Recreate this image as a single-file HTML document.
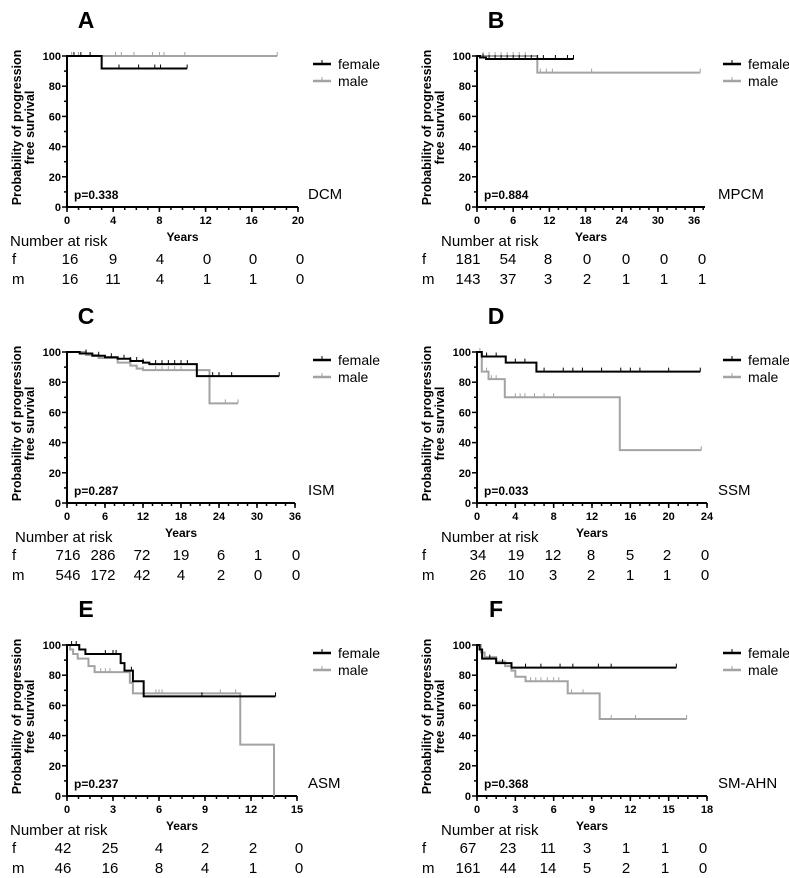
<!DOCTYPE html>
<html><head><meta charset="utf-8">
<style>
html,body{margin:0;padding:0;background:#fff;}
svg{display:block;font-family:"Liberation Sans",Arial,sans-serif;}
</style></head>
<body>
<svg id="fig" width="789" height="878" viewBox="0 0 789 878" xmlns="http://www.w3.org/2000/svg"></svg>
<script>
// ---- Data ----
const aFT=[0,3,10.4], aFS=[100,91.7,91.7];
const aMT=[0,18.2], aMS=[100,100];
const aFC=[0.6,1.2,2.0,4.5,6.2,7.6,8.1,10.4], aMC=[0.4,1.0,4.2,4.7,5.8,7.4,8.0,8.4,10.2,18.2];
const bFT=[0,0.5,1.5,16], bFS=[100,99,98,98];
const bMT=[0,10,37], bMS=[100,89,89];
const bFC=[1,2,3,4,5,6,7,8,9,10,11,13,15,16], bMC=[1,2,3,4,5,6,7,8,10.5,11.5,12.5,19,37];
const cFT=[0,2,4,6,8,10,12,13,20.5,33.5], cFS=[100,99,97.5,96.5,95.5,94,93,92,84,84];
const cMT=[0,3,5,8,10,11,12,22.5,27], cMS=[100,98,96,93,91,89,88,66,66];
const cFC=[3,5,7,9,10,11,12,14,15,16,17,18,19,23,24,26,33.5], cMC=[10,12,14,15,16,17,18,25,27];
const dFT=[0,0.5,3,6.2,23.3], dFS=[100,97,93,87,87];
const dMT=[0,0.5,1.2,2.9,14.9,23.4], dMS=[100,87,82,70,35,35];
const dFC=[1,2,4,5,7,9,10,11,13,15,16,17,20,23.3], dMC=[0.3,1,1.5,2,4,4.5,5,6,7,8,23.4];
const eFT=[0,0.8,1.2,3.5,3.75,4.3,5.0,13.6], eFS=[100,97,94,88,83,76,66,66];
const eMT=[0,0.2,0.4,0.7,1.4,1.8,4.1,4.3,11.3,13.5], eMS=[100,97,94,91,86,82,75,68,34,0];
const eFC=[0.3,0.6,2.5,3.0,3.2,4.2,8.8,13.6], eMC=[2.2,2.5,2.8,5.8,6.0,6.2,10.0,11.0];
const fFT=[0,0.2,0.4,1.5,2.7,15.6], fFS=[100,97,91,88,85,85];
const fMT=[0,0.3,0.6,1.5,2.2,2.7,3.0,3.8,7.1,9.6,16.4], fMS=[100,95,92,89,86,83,79,76,68,51,51];
const fFC=[1,2,3.8,5,6.5,7.5,9.5,10.5,15.6], fMC=[4.2,4.6,5,5.5,6,6.4,7.4,8.3,10.5,12.4,16.4];
const aTicks=[0,4,8,12,16,20], bTicks=[0,6,12,18,24,30,36], cTicks=[0,6,12,18,24,30,36];
const dTicks=[0,4,8,12,16,20,24], eTicks=[0,3,6,9,12,15], fTicks=[0,3,6,9,12,15,18];
const aRiskF=[16,9,4,0,0,0], aRiskM=[16,11,4,1,1,0];
const bRiskF=[181,54,8,0,0,0,0], bRiskM=[143,37,3,2,1,1,1];
const cRiskF=[716,286,72,19,6,1,0], cRiskM=[546,172,42,4,2,0,0];
const dRiskF=[34,19,12,8,5,2,0], dRiskM=[26,10,3,2,1,1,0];
const eRiskF=[42,25,4,2,2,0], eRiskM=[46,16,8,4,1,0];
const fRiskF=[67,23,11,3,1,1,0], fRiskM=[161,44,14,5,2,1,0];

const panels=[
 {id:'a',L:'A',name:'DCM',p:'p=0.338',ox:0,oy:0,x0:67,x1:298,xmax:20,ticks:aTicks,minor:1,F:[aFT,aFS,aFC],M:[aMT,aMS,aMC],rf:aRiskF,rm:aRiskM,rx:[70,113,160,207,253,300]},
 {id:'b',L:'B',name:'MPCM',p:'p=0.884',ox:410,oy:0,x0:477,x1:705,xmax:37.8,ticks:bTicks,minor:1.5,F:[bFT,bFS,bFC],M:[bMT,bMS,bMC],rf:bRiskF,rm:bRiskM,rx:[468,508,548,587,626,664,702]},
 {id:'c',L:'C',name:'ISM',p:'p=0.287',ox:0,oy:296,x0:67,x1:295,xmax:36,ticks:cTicks,minor:1.5,F:[cFT,cFS,cFC],M:[cMT,cMS,cMC],rf:cRiskF,rm:cRiskM,rx:[68,103,142,181,221,258,296]},
 {id:'d',L:'D',name:'SSM',p:'p=0.033',ox:410,oy:296,x0:477,x1:707,xmax:24,ticks:dTicks,minor:1,F:[dFT,dFS,dFC],M:[dMT,dMS,dMC],rf:dRiskF,rm:dRiskM,rx:[478,516,553,591,630,667,705]},
 {id:'e',L:'E',name:'ASM',p:'p=0.237',ox:0,oy:589,x0:67,x1:297,xmax:15,ticks:eTicks,minor:0.75,F:[eFT,eFS,eFC],M:[eMT,eMS,eMC],rf:eRiskF,rm:eRiskM,rx:[63,110,159,205,253,299]},
 {id:'f',L:'F',name:'SM-AHN',p:'p=0.368',ox:410,oy:589,x0:477,x1:707,xmax:18,ticks:fTicks,minor:0.75,F:[fFT,fFS,fFC],M:[fMT,fMS,fMC],rf:fRiskF,rm:fRiskM,rx:[468,508,548,587,626,665,703]}
];
const NS='http://www.w3.org/2000/svg';
const svg=document.getElementById('fig');
function mk(tag,attrs,parent,text){const e=document.createElementNS(NS,tag);for(const k in attrs)e.setAttribute(k,attrs[k]);if(text!==undefined)e.textContent=text;(parent||svg).appendChild(e);return e;}
panels.forEach(P=>{
 const g=mk('g',{});
 
 
 const y100=56+P.oy, y0=207+P.oy;
 const X=t=>P.x0+t/P.xmax*(P.x1-P.x0);
 const Y=s=>y0-s/100*(y0-y100);
 const lx=P.ox;
 const t1=mk('text',{x:lx+86,y:P.oy+28,'text-anchor':'middle','font-size':23,'font-weight':'bold'},g,P.L);
 
 
 // y title
 const yt=mk('text',{transform:`translate(${lx+21},${(y0+y100)/2-4}) rotate(-90)`,'text-anchor':'middle','font-size':12.5,'font-weight':'bold'},g);
 
 
 mk('tspan',{x:0,dy:0},yt,'Probability of progression');
 mk('tspan',{x:0,dy:13},yt,'free survival');
 // axes
 const ax=mk('g',{stroke:'#000','stroke-width':2},g);
 
 
 mk('line',{x1:P.x0,y1:y0,x2:P.x0,y2:y100-1},ax);
 mk('line',{x1:P.x0-1,y1:y0,x2:P.x1,y2:y0},ax);
 for(let v=0;v<=100;v+=10){const yy=Y(v);mk('line',{x1:P.x0-(v%20?3:5),y1:yy,x2:P.x0,y2:yy,'stroke-width':1.5},ax);
  if(v%20===0){const tl=mk('text',{x:P.x0-6,y:yy+4,'text-anchor':'end','font-size':11,'font-weight':'bold',stroke:'none'},g,String(v));
   
   }}
 for(let v=0;v<=P.xmax+1e-6;v+=P.minor){const xx=X(v);mk('line',{x1:xx,y1:y0,x2:xx,y2:y0+3,'stroke-width':1.5},ax);}
 P.ticks.forEach(v=>{const xx=X(v);mk('line',{x1:xx,y1:y0,x2:xx,y2:y0+5,'stroke-width':1.5},ax);
  const tl=mk('text',{x:xx,y:y0+17,'text-anchor':'middle','font-size':11,'font-weight':'bold'},g,String(v));
  
  });
 const xt=mk('text',{x:(P.x0+P.x1)/2,y:y0+34,'text-anchor':'middle','font-size':12,'font-weight':'bold'},g,'Years');
 
 
 const pv=mk('text',{x:P.x0+7,y:y0-8,'font-size':12,'font-weight':'bold'},g,P.p);
 
 
 const nm=mk('text',{x:lx+308,y:y0-8,'font-size':15},g,P.name);
 
 
 // curves
 [[P.M,'#a3a3a3','male'],[P.F,'#000','female']].forEach(([D,col,lab])=>{
  const [T,S,C]=D; let d=`M${X(T[0])},${Y(S[0])}`;
  for(let i=1;i<T.length;i++){d+=` H${X(T[i])} V${Y(S[i])}`;}
  const pth=mk('path',{d:d,fill:'none',stroke:col,'stroke-width':2},g);
  
  
  C.forEach(c=>{let s=S[0];for(let i=0;i<T.length;i++){if(T[i]<=c)s=S[i];}
   const tk=mk('line',{x1:X(c),y1:Y(s)-4,x2:X(c),y2:Y(s),stroke:col,'stroke-width':1},g);
   
   });
 });
 // legend
 [['female','#000',64],['male','#a3a3a3',81]].forEach(([lab,col,ly])=>{
  const lg=mk('g',{},g);
  
  
  mk('line',{x1:lx+313,y1:ly+P.oy,x2:lx+331,y2:ly+P.oy,stroke:col,'stroke-width':2.5},lg);
  mk('line',{x1:lx+322,y1:ly+P.oy-4,x2:lx+322,y2:ly+P.oy,stroke:col,'stroke-width':1},lg);
  mk('text',{x:lx+338,y:ly+P.oy+5,'font-size':14},lg,lab);
 });
 // number at risk
 const nx=P.id==='a'||P.id==='e'?10:(P.ox===0?15:P.ox+31);
 const nr=mk('text',{x:nx,y:y0+39,'font-size':15},g,'Number at risk');
 
 
 [['f',P.rf,y0+57],['m',P.rm,y0+77]].forEach(([lab,arr,ry])=>{
  const rg=mk('g',{'font-size':15},g);
  
  
  mk('text',{x:lx+12,y:ry},rg,lab);
  arr.forEach((v,i)=>mk('text',{x:P.rx[i],y:ry,'text-anchor':'middle'},rg,String(v)));
 });
});
</script>
</body></html>
